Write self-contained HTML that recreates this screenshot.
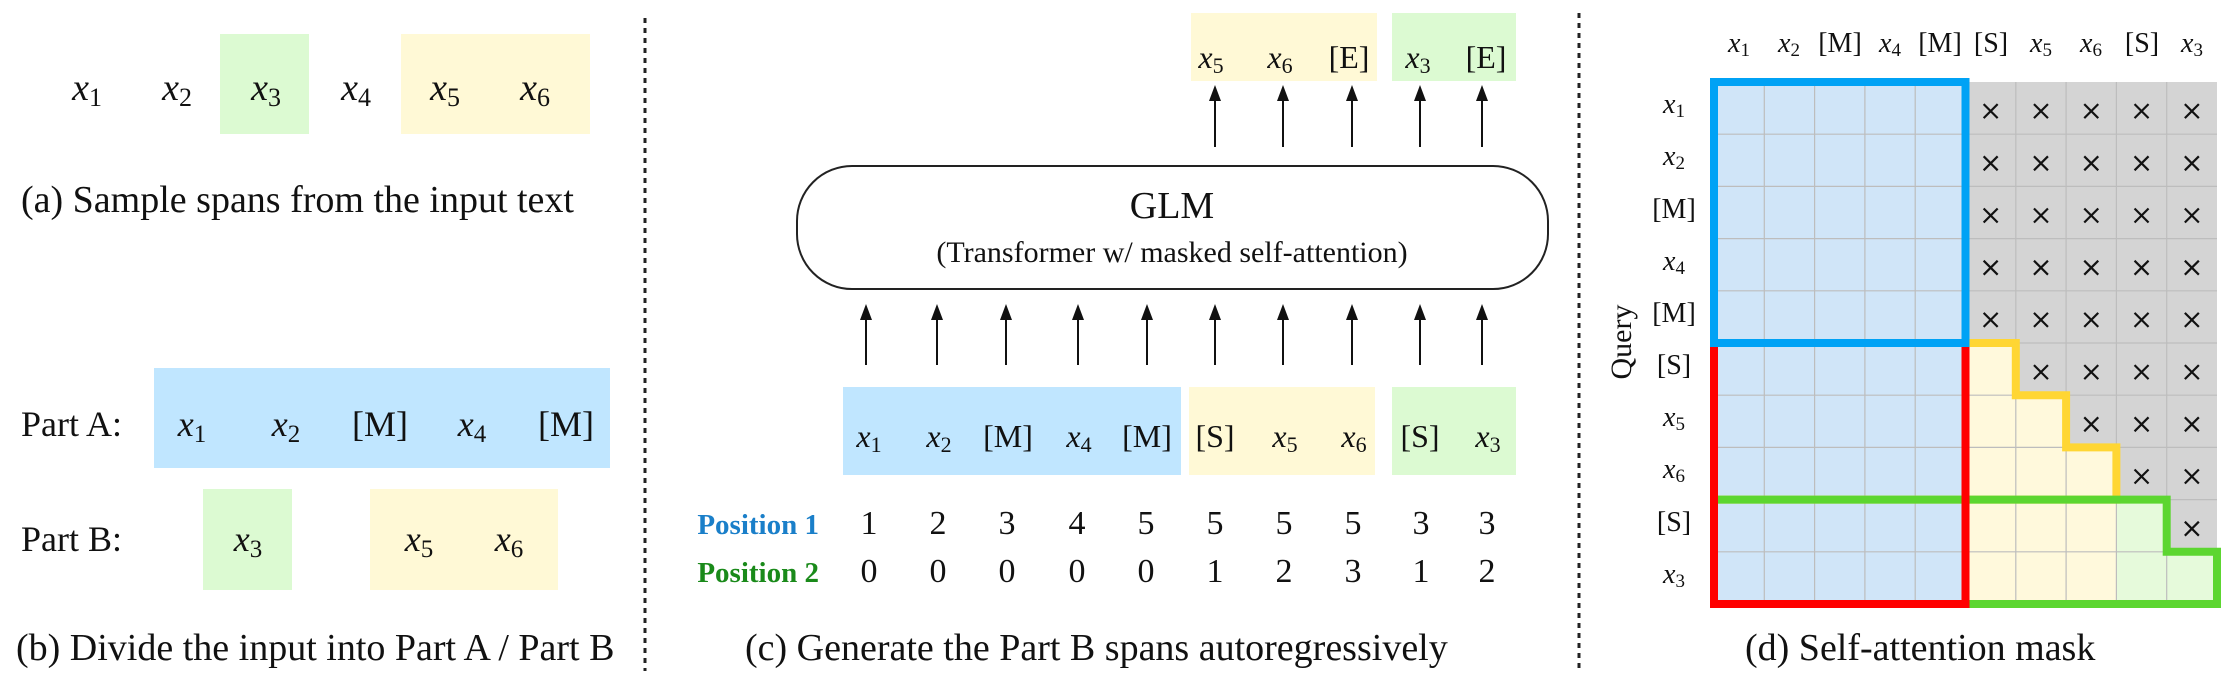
<!DOCTYPE html>
<html><head><meta charset="utf-8"><style>
html,body{margin:0;padding:0;background:#fff;}
svg{display:block;}
text{font-family:"Liberation Serif",serif;fill:#111;}
.i{font-style:italic;}
</style></head><body>
<svg id="s" width="2229" height="680" viewBox="0 0 2229 680" xmlns="http://www.w3.org/2000/svg">
<defs>
<marker id="ah" markerWidth="8" markerHeight="8" refX="4" refY="4" orient="auto"><path d="M0,1 L8,4 L0,7 Z" fill="#111"/></marker>
</defs>
<line x1="645" y1="18" x2="645" y2="671" stroke="#222" stroke-width="3" stroke-dasharray="5,5"/>
<line x1="1579" y1="13" x2="1579" y2="671" stroke="#222" stroke-width="3" stroke-dasharray="5,5"/>

<rect x="220" y="34" width="89" height="100" fill="#dcfad2"/>
<rect x="401" y="34" width="189" height="100" fill="#fff9d6"/>
<g font-size="38" text-anchor="middle">
<text x="87" y="100"><tspan class="i">x</tspan><tspan font-size="26" dy="6">1</tspan></text>
<text x="177" y="100"><tspan class="i">x</tspan><tspan font-size="26" dy="6">2</tspan></text>
<text x="266" y="100"><tspan class="i">x</tspan><tspan font-size="26" dy="6">3</tspan></text>
<text x="356" y="100"><tspan class="i">x</tspan><tspan font-size="26" dy="6">4</tspan></text>
<text x="445" y="100"><tspan class="i">x</tspan><tspan font-size="26" dy="6">5</tspan></text>
<text x="535" y="100"><tspan class="i">x</tspan><tspan font-size="26" dy="6">6</tspan></text>
</g>
<text x="21" y="212" font-size="38">(a)  Sample spans from the input text</text>

<rect x="154" y="368" width="456" height="100" fill="#c0e6ff"/>
<rect x="203" y="489" width="89" height="101" fill="#dcfad2"/>
<rect x="370" y="489" width="188" height="101" fill="#fff9d6"/>
<text x="21" y="436" font-size="36">Part A:</text>
<text x="21" y="551" font-size="36">Part B:</text>
<g font-size="36" text-anchor="middle">
<text x="192" y="436"><tspan class="i">x</tspan><tspan font-size="25" dy="6">1</tspan></text>
<text x="286" y="436"><tspan class="i">x</tspan><tspan font-size="25" dy="6">2</tspan></text>
<text x="380" y="436">[M]</text>
<text x="472" y="436"><tspan class="i">x</tspan><tspan font-size="25" dy="6">4</tspan></text>
<text x="566" y="436">[M]</text>
<text x="248" y="551"><tspan class="i">x</tspan><tspan font-size="25" dy="6">3</tspan></text>
<text x="419" y="551"><tspan class="i">x</tspan><tspan font-size="25" dy="6">5</tspan></text>
<text x="509" y="551"><tspan class="i">x</tspan><tspan font-size="25" dy="6">6</tspan></text>
</g>
<text x="16" y="660" font-size="38">(b)  Divide the input into Part A / Part B</text>

<rect x="1191" y="13" width="186" height="68" fill="#fff9d6"/>
<rect x="1392" y="13" width="124" height="68" fill="#dcfad2"/>
<g font-size="32" text-anchor="middle">
<text x="1211" y="68"><tspan class="i">x</tspan><tspan font-size="22" dy="5">5</tspan></text>
<text x="1280" y="68"><tspan class="i">x</tspan><tspan font-size="22" dy="5">6</tspan></text>
<text x="1349" y="68">[E]</text>
<text x="1418" y="68"><tspan class="i">x</tspan><tspan font-size="22" dy="5">3</tspan></text>
<text x="1486" y="68">[E]</text>
</g>
<g stroke="#111" stroke-width="2" marker-end="url(#ah)">
<line x1="1215" y1="147" x2="1215" y2="93"/>
<line x1="1283" y1="147" x2="1283" y2="93"/>
<line x1="1352" y1="147" x2="1352" y2="93"/>
<line x1="1420" y1="147" x2="1420" y2="93"/>
<line x1="1482" y1="147" x2="1482" y2="93"/>
<line x1="866" y1="365" x2="866" y2="312"/>
<line x1="937" y1="365" x2="937" y2="312"/>
<line x1="1006" y1="365" x2="1006" y2="312"/>
<line x1="1078" y1="365" x2="1078" y2="312"/>
<line x1="1147" y1="365" x2="1147" y2="312"/>
<line x1="1215" y1="365" x2="1215" y2="312"/>
<line x1="1283" y1="365" x2="1283" y2="312"/>
<line x1="1352" y1="365" x2="1352" y2="312"/>
<line x1="1420" y1="365" x2="1420" y2="312"/>
<line x1="1482" y1="365" x2="1482" y2="312"/>
</g>
<rect x="797" y="166" width="751" height="123" rx="55" ry="55" fill="#fff" stroke="#222" stroke-width="2"/>
<text x="1172" y="218" font-size="38" text-anchor="middle">GLM</text>
<text x="1172" y="262" font-size="30" text-anchor="middle">(Transformer w/ masked self-attention)</text>
<rect x="843" y="387" width="338" height="88" fill="#c0e6ff"/>
<rect x="1189" y="387" width="186" height="88" fill="#fff9d6"/>
<rect x="1392" y="387" width="124" height="88" fill="#dcfad2"/>
<g font-size="32" text-anchor="middle">
<text x="869" y="447"><tspan class="i">x</tspan><tspan font-size="22" dy="5">1</tspan></text>
<text x="939" y="447"><tspan class="i">x</tspan><tspan font-size="22" dy="5">2</tspan></text>
<text x="1008" y="447">[M]</text>
<text x="1079" y="447"><tspan class="i">x</tspan><tspan font-size="22" dy="5">4</tspan></text>
<text x="1147" y="447">[M]</text>
<text x="1215" y="447">[S]</text>
<text x="1285" y="447"><tspan class="i">x</tspan><tspan font-size="22" dy="5">5</tspan></text>
<text x="1354" y="447"><tspan class="i">x</tspan><tspan font-size="22" dy="5">6</tspan></text>
<text x="1420" y="447">[S]</text>
<text x="1488" y="447"><tspan class="i">x</tspan><tspan font-size="22" dy="5">3</tspan></text>
</g>
<text x="819" y="534" font-size="29" font-weight="bold" text-anchor="end" style="fill:#1a7fc9">Position 1</text>
<text x="819" y="582" font-size="29" font-weight="bold" text-anchor="end" style="fill:#1a8a1a">Position 2</text>
<g font-size="34" text-anchor="middle">
<text x="869" y="534">1</text><text x="938" y="534">2</text><text x="1007" y="534">3</text><text x="1077" y="534">4</text><text x="1146" y="534">5</text><text x="1215" y="534">5</text><text x="1284" y="534">5</text><text x="1353" y="534">5</text><text x="1421" y="534">3</text><text x="1487" y="534">3</text>
<text x="869" y="582">0</text><text x="938" y="582">0</text><text x="1007" y="582">0</text><text x="1077" y="582">0</text><text x="1146" y="582">0</text><text x="1215" y="582">1</text><text x="1284" y="582">2</text><text x="1353" y="582">3</text><text x="1421" y="582">1</text><text x="1487" y="582">2</text>
</g>
<text x="745" y="660" font-size="38">(c)  Generate the Part B spans autoregressively</text>

<rect x="1714" y="82" width="503" height="522" fill="#d4d4d4"/>
<rect x="1714" y="82" width="251.5" height="522" fill="#d0e5f8"/>
<polygon points="1965.5,343 2015.8,343 2015.8,395.2 2066.1,395.2 2066.1,447.4 2116.4,447.4 2116.4,499.6 1965.5,499.6" fill="#fff9dc"/>
<polygon points="1965.5,499.6 2166.7,499.6 2166.7,551.8 2217,551.8 2217,604 1965.5,604" fill="#fff9dc"/>
<polygon points="2116.4,499.6 2166.7,499.6 2166.7,551.8 2217,551.8 2217,604 2116.4,604" fill="#e6fadb"/>
<g id="grid" stroke="#bdbdbd" stroke-width="1.2"></g>
<g id="xs" stroke="#111" stroke-width="2.2"></g>
<polygon points="1714,343 2015.8,343 2015.8,395.2 2066.1,395.2 2066.1,447.4 2116.4,447.4 2116.4,499.6 1714,499.6" fill="none" stroke="#ffd633" stroke-width="8"/>
<polygon points="1714,499.6 2166.7,499.6 2166.7,551.8 2217,551.8 2217,604 1714,604" fill="none" stroke="#5cd630" stroke-width="8"/>
<rect x="1714" y="343" width="251.5" height="261" fill="none" stroke="#ff0000" stroke-width="8"/>
<rect x="1714" y="82" width="251.5" height="261" fill="none" stroke="#00a2f5" stroke-width="8"/>
<g font-size="28" text-anchor="middle">
<text x="1739" y="52"><tspan class="i">x</tspan><tspan font-size="19" dy="4">1</tspan></text>
<text x="1789" y="52"><tspan class="i">x</tspan><tspan font-size="19" dy="4">2</tspan></text>
<text x="1840" y="52">[M]</text>
<text x="1890" y="52"><tspan class="i">x</tspan><tspan font-size="19" dy="4">4</tspan></text>
<text x="1940" y="52">[M]</text>
<text x="1991" y="52">[S]</text>
<text x="2041" y="52"><tspan class="i">x</tspan><tspan font-size="19" dy="4">5</tspan></text>
<text x="2091" y="52"><tspan class="i">x</tspan><tspan font-size="19" dy="4">6</tspan></text>
<text x="2142" y="52">[S]</text>
<text x="2192" y="52"><tspan class="i">x</tspan><tspan font-size="19" dy="4">3</tspan></text>
<text x="1674" y="113"><tspan class="i">x</tspan><tspan font-size="19" dy="4">1</tspan></text>
<text x="1674" y="165"><tspan class="i">x</tspan><tspan font-size="19" dy="4">2</tspan></text>
<text x="1674" y="218">[M]</text>
<text x="1674" y="270"><tspan class="i">x</tspan><tspan font-size="19" dy="4">4</tspan></text>
<text x="1674" y="322">[M]</text>
<text x="1674" y="374">[S]</text>
<text x="1674" y="426"><tspan class="i">x</tspan><tspan font-size="19" dy="4">5</tspan></text>
<text x="1674" y="478"><tspan class="i">x</tspan><tspan font-size="19" dy="4">6</tspan></text>
<text x="1674" y="531">[S]</text>
<text x="1674" y="583"><tspan class="i">x</tspan><tspan font-size="19" dy="4">3</tspan></text>
</g>
<text x="1631" y="342" font-size="30" text-anchor="middle" transform="rotate(-90 1631 342)">Query</text>
<text x="1745" y="660" font-size="38">(d)  Self-attention mask</text>
</svg>
<script>
(function(){
var ns="http://www.w3.org/2000/svg",x0=1714,y0=82,w=50.3,h=52.2;
var g=document.getElementById("grid"),xs=document.getElementById("xs");
function L(p,a,b,c,d){var l=document.createElementNS(ns,"line");l.setAttribute("x1",a);l.setAttribute("y1",b);l.setAttribute("x2",c);l.setAttribute("y2",d);p.appendChild(l);}
for(var k=1;k<10;k++){L(g,x0+k*w,y0,x0+k*w,y0+10*h);L(g,x0,y0+k*h,x0+10*w,y0+k*h);}
var firstMasked=[5,5,5,5,5,6,7,8,9,10];
for(var r=0;r<10;r++){for(var c=firstMasked[r];c<10;c++){var cx=x0+(c+0.5)*w,cy=y0+(r+0.5)*h+3,s=7;L(xs,cx-s,cy-s,cx+s,cy+s);L(xs,cx-s,cy+s,cx+s,cy-s);}}
})();
</script>
</body></html>
